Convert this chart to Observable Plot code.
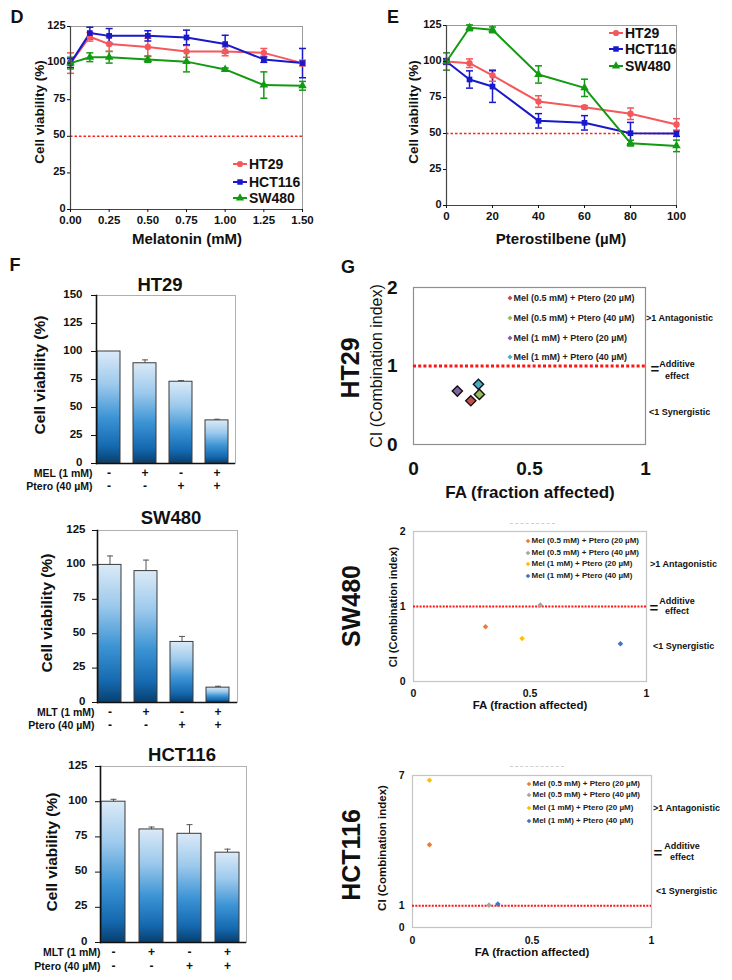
<!DOCTYPE html>
<html><head><meta charset="utf-8">
<script src="https://cdn.jsdelivr.net/npm/d3@7"></script>
<script src="https://cdn.jsdelivr.net/npm/@observablehq/plot@0.6"></script>
<style>
body{margin:0;background:#fff;}
#root{position:relative;width:732px;height:980px;overflow:hidden;background:#fff;}
</style></head>
<body><div id="root"></div>
<script>
// ---------------- DATA ----------------
const cellLines = ["HT29", "HCT116", "SW480"];
const lineColors = ["#f4585c", "#1818cc", "#139a13"];

// Panel D: melatonin dose response
const melatoninDoses = [0, 0.125, 0.25, 0.5, 0.75, 1.0, 1.25, 1.5];
const melHT29 = [100, 118, 113, 111, 108, 108, 107, 100];
const melHT29Err = [7, 3, 5, 6, 4, 3, 3, 2];
const melHCT116 = [100, 120.5, 118.6, 118.6, 117.5, 113, 102.5, 100];
const melHCT116Err = [3, 4, 5, 3.5, 5, 6, 2, 10];
const melSW480 = [100, 104, 104, 102.5, 101, 95.7, 85, 84.5];
const melSW480Err = [4, 3, 4, 2, 7, 1, 9, 3];
const melTicks = [0, 0.25, 0.5, 0.75, 1.0, 1.25, 1.5];

// Panel E: pterostilbene dose response
const pteroDoses = [0, 10, 20, 40, 60, 80, 100];
const pteHT29 = [100, 98.8, 90.3, 72.2, 68.3, 63.7, 56.3];
const pteHT29Err = [1, 3, 4, 4, 1, 4, 4];
const pteHCT116 = [100, 87.5, 82.6, 58.8, 57.4, 50.2, 50];
const pteHCT116Err = [2, 6, 11, 5, 5, 7.5, 2];
const pteSW480 = [100, 123.4, 122, 91, 81.7, 43.3, 41.4];
const pteSW480Err = [6, 2, 2, 6, 6, 2, 4];
const pteTicks = [0, 20, 40, 60, 80, 100];
const viabilityTicks = [0, 25, 50, 75, 100, 125];

// Panel F: combination bars
const treatments = ["Control", "Mel", "Ptero", "Mel+Ptero"];
const melSigns = ["-", "+", "-", "+"];
const pteroSigns = ["-", "-", "+", "+"];
const barHT29 = [100, 89.5, 73, 38.5];
const barHT29Err = [0, 3, 1, 1];
const barSW480 = [100, 95.5, 44, 10.8];
const barSW480Err = [6.5, 8, 4, 1];
const barHCT116 = [100, 80.3, 77.2, 63.8];
const barHCT116Err = [1.7, 1.7, 6.5, 2.5];

// Panel G: combination index
const ciCombos = ["Mel (0.5 mM) + Ptero (20 µM)", "Mel (0.5 mM) + Ptero (40 µM)", "Mel (1 mM) + Ptero (20 µM)", "Mel (1 mM) + Ptero (40 µM)"];
const ciColorsA = ["#c0504d", "#9bbb59", "#8064a2", "#4bacc6"];
const ciColorsB = ["#ed7d31", "#a5a5a5", "#ffc000", "#4472c4"];
const ciHT29FA = [0.247, 0.284, 0.189, 0.28];
const ciHT29 = [0.557, 0.638, 0.681, 0.766];
const ciSW480FA = [0.309, 0.544, 0.466, 0.888];
const ciSW480 = [0.729, 1.02, 0.573, 0.502];
const ciHCT116FA = [0.071, 0.32, 0.071, 0.357];
const ciHCT116 = [3.815, 1.03, 6.78, 1.08];

// ---------------- HELPERS ----------------
const FONT = "Arial, 'Liberation Sans', Helvetica, sans-serif";
const root = document.getElementById("root");

function txt(s, x, y, o = {}) {
  const d = document.createElement("div");
  d.textContent = s;
  Object.assign(d.style, {
    position: "absolute", left: x + "px", top: y + "px", whiteSpace: "nowrap",
    lineHeight: "1", fontSize: (o.size ?? 12) + "px", fontWeight: o.weight ?? "bold",
    color: o.color ?? "#111", fontFamily: FONT
  });
  const ax = o.anchor === "start" ? "0" : o.anchor === "end" ? "-100%" : "-50%";
  d.style.transform = `translate(${ax},-50%)` + (o.rotate ? ` rotate(${o.rotate}deg)` : "");
  root.appendChild(d);
  return d;
}

function place(svg, left, top) {
  svg.style.position = "absolute";
  svg.style.left = left + "px";
  svg.style.top = top + "px";
  root.appendChild(svg);
}

function swatch(cx, cy, color, symType, symSize, lineHalf) {
  const w = 2 * (lineHalf || 4) + 10, h = 16;
  const s = d3.create("svg").attr("width", w).attr("height", h)
    .style("position", "absolute").style("left", (cx - w / 2) + "px").style("top", (cy - h / 2) + "px").style("overflow", "visible");
  if (lineHalf) s.append("line").attr("x1", w / 2 - lineHalf).attr("x2", w / 2 + lineHalf)
    .attr("y1", h / 2).attr("y2", h / 2).attr("stroke", color).attr("stroke-width", 2);
  s.append("path").attr("d", d3.symbol(symType, symSize)()).attr("transform", `translate(${w / 2},${h / 2})`).attr("fill", color);
  root.appendChild(s.node());
}

// horizontal cap symbol for error bars
const capSym = { draw(ctx, size) { const r = Math.sqrt(size / Math.PI); ctx.moveTo(-r, 0); ctx.lineTo(r, 0); } };

// gradient for bars
{
  const s = d3.create("svg").attr("width", 0).attr("height", 0).style("position", "absolute");
  const g = s.append("defs").append("linearGradient").attr("id", "barGrad")
    .attr("x1", 0).attr("y1", 0).attr("x2", 0).attr("y2", 1);
  [[0, "#dbeaf7"], [0.3, "#9cc9ec"], [0.6, "#3b93d4"], [0.85, "#1569b0"], [1, "#083f6e"]]
    .forEach(([o, c]) => g.append("stop").attr("offset", o).attr("stop-color", c));
  root.appendChild(s.node());
}

const baseStyle = { fontFamily: FONT, fontWeight: "bold", fontSize: "11px", color: "#111", background: "transparent", overflow: "visible" };

// ---------------- PANELS D & E ----------------
function doseChart(o) {
  const data = [];
  cellLines.forEach((c, k) => o.doses.forEach((x, i) => data.push({ line: c, x, y: o.vals[k][i], e: o.errs[k][i] })));
  return Plot.plot({
    width: o.width, height: o.height, marginLeft: o.mL, marginRight: o.mR, marginTop: o.mT, marginBottom: o.mB,
    style: baseStyle,
    x: { domain: o.xDomain },
    y: { domain: [0, 125] },
    color: { domain: cellLines, range: lineColors },
    symbol: { domain: cellLines, range: ["circle", "square", "triangle"] },
    marks: [
      Plot.frame({ stroke: "#9a9a9a" }),
      Plot.ruleY([50], { stroke: "#ff2020", strokeDasharray: "2.5,2", strokeWidth: 1.5 }),
      Plot.ruleX(data, { x: "x", y1: d => d.y - d.e, y2: d => d.y + d.e, stroke: "line", strokeWidth: 1.5 }),
      Plot.dot(data, { x: "x", y: d => d.y + d.e, symbol: capSym, r: 3.5, stroke: "line", strokeWidth: 1.5 }),
      Plot.dot(data, { x: "x", y: d => d.y - d.e, symbol: capSym, r: 3.5, stroke: "line", strokeWidth: 1.5 }),
      Plot.line(data, { x: "x", y: "y", z: "line", stroke: "line", strokeWidth: 2 }),
      Plot.dot(data, { x: "x", y: "y", symbol: "line", fill: "line", r: 3.2 }),
      Plot.ruleX([o.xDomain[0]], { stroke: "#444", strokeWidth: 1.2 }),
      Plot.ruleY([0], { stroke: "#444", strokeWidth: 1.2 }),
      Plot.axisX({ ticks: o.xTicks, tickFormat: o.xFormat, tickSize: 3, tickPadding: 3, fontSize: 11.5, fontWeight: "bold", label: null }),
      Plot.axisY({ ticks: viabilityTicks, tickSize: 3, tickFormat: () => "", label: null }),
      Plot.axisY({ ticks: viabilityTicks, tickSize: 0, tickPadding: 5, dy: -1.5, fontSize: 11, fontWeight: "bold", label: null })
    ]
  });
}

place(doseChart({
  width: 360, height: 250, mL: 70, mR: 58, mT: 26, mB: 41,
  doses: melatoninDoses, vals: [melHT29, melHCT116, melSW480], errs: [melHT29Err, melHCT116Err, melSW480Err],
  xDomain: [0, 1.5], xTicks: melTicks, xFormat: d => d.toFixed(2)
}), 0, 0);

place(doseChart({
  width: 372, height: 250, mL: 86, mR: 56, mT: 25, mB: 45,
  doses: pteroDoses, vals: [pteHT29, pteHCT116, pteSW480], errs: [pteHT29Err, pteHCT116Err, pteSW480Err],
  xDomain: [0, 100], xTicks: pteTicks, xFormat: d => String(d)
}), 360, 0);

txt("D", 17, 17, { size: 18 });
txt("E", 393, 17, { size: 18 });
txt("Cell viability (%)", 40, 112, { size: 13.5, rotate: -90 });
txt("Cell viability (%)", 414, 112, { size: 13.5, rotate: -90 });
txt("Melatonin (mM)", 187, 238, { size: 15 });
txt("Pterostilbene (µM)", 561, 238, { size: 15 });

const symTypes = [d3.symbolCircle, d3.symbolSquare, d3.symbolTriangle];
[[164, 0], [182, 1], [198, 2]].forEach(([y, k]) => {
  swatch(240, y, lineColors[k], symTypes[k], 30, 7);
  txt(cellLines[k], 249, y, { size: 14, anchor: "start" });
});
[[33, 0], [49, 1], [66, 2]].forEach(([y, k]) => {
  swatch(616, y, lineColors[k], symTypes[k], 30, 7);
  txt(cellLines[k], 625, y, { size: 14, anchor: "start" });
});

// ---------------- PANEL F ----------------
function barChart(o) {
  const data = treatments.map((t, i) => ({ t, v: o.vals[i], e: o.errs[i], s1: melSigns[i], s2: pteroSigns[i] }));
  const errData = data.filter(d => d.e > 0);
  const yt = d3.range(0, o.yMax + 1, 25);
  return Plot.plot({
    width: o.width, height: o.height, marginLeft: o.mL, marginRight: o.mR, marginTop: o.mT, marginBottom: o.mB,
    style: baseStyle,
    x: { domain: treatments, paddingInner: 0.36, paddingOuter: 0.1, align: 0.15, axis: null },
    y: { domain: [0, o.yMax] },
    marks: [
      Plot.frame({ stroke: "#b0b0b0" }),
      Plot.ruleX(errData, { x: "t", y1: "v", y2: d => d.v + d.e, stroke: "#555", strokeWidth: 1 }),
      Plot.dot(errData, { x: "t", y: d => d.v + d.e, symbol: capSym, r: 3, stroke: "#555", strokeWidth: 1 }),
      Plot.barY(data, { x: "t", y: "v", fill: "url(#barGrad)", stroke: "#3a3a3a", strokeWidth: 1 }),
      Plot.frame({ anchor: "left", stroke: "#111", strokeWidth: 1.6 }),
      Plot.ruleY([0], { stroke: "#111", strokeWidth: 1.6 }),
      Plot.axisY({ ticks: yt, tickSize: 5, tickFormat: () => "", label: null }),
      Plot.axisY({ ticks: yt, tickSize: 0, tickPadding: o.tickPad + 5, dy: -1.5, fontSize: 11.5, fontWeight: "bold", label: null }),
      Plot.text(data, { x: "t", text: "s1", frameAnchor: "bottom", dy: o.dy1, fontSize: 12, fontWeight: "bold" }),
      Plot.text(data, { x: "t", text: "s2", frameAnchor: "bottom", dy: o.dy2, fontSize: 12, fontWeight: "bold" }),
      Plot.text([o.row1], { text: d => d, frameAnchor: "bottom-left", dx: o.rowDx, dy: o.dy1, textAnchor: "end", fontSize: 10.5, fontWeight: "bold" }),
      Plot.text(["Ptero (40 µM)"], { text: d => d, frameAnchor: "bottom-left", dx: o.rowDx, dy: o.dy2, textAnchor: "end", fontSize: 10.5, fontWeight: "bold" })
    ]
  });
}

place(barChart({ width: 260, height: 210, mL: 96, mR: 25, mT: 7, mB: 35, vals: barHT29, errs: barHT29Err, yMax: 150, tickPad: 9, dy1: 13.5, dy2: 26, row1: "MEL (1 mM)", rowDx: -4 }), 0, 288);
place(barChart({ width: 260, height: 212, mL: 97, mR: 23, mT: 8, mB: 32, vals: barSW480, errs: barSW480Err, yMax: 125, tickPad: 7, dy1: 13.5, dy2: 26, row1: "MLT (1 mM)", rowDx: -3 }), 0, 522);
place(barChart({ width: 260, height: 220, mL: 100, mR: 14, mT: 8, mB: 36, vals: barHCT116, errs: barHCT116Err, yMax: 125, tickPad: 8, dy1: 13.5, dy2: 27, row1: "MLT (1 mM)", rowDx: 0 }), 0, 758);

txt("F", 15, 265, { size: 18 });
txt("HT29", 160, 285, { size: 18.5 });
txt("SW480", 171, 518, { size: 18.5 });
txt("HCT116", 182, 755, { size: 18.5 });
txt("Cell viability (%)", 40, 375, { size: 15.5, rotate: -90 });
txt("Cell viability (%)", 47, 613, { size: 15.5, rotate: -90 });
txt("Cell viability (%)", 52, 852, { size: 15.5, rotate: -90 });

// ---------------- PANEL G ----------------
function ciChart(o) {
  const data = ciCombos.map((c, i) => ({ combo: c, fa: o.fa[i], ci: o.ci[i] }));
  return Plot.plot({
    width: o.width, height: o.height, marginLeft: o.mL, marginRight: o.mR, marginTop: o.mT, marginBottom: o.mB,
    style: baseStyle,
    x: { domain: [0, 1] },
    y: { domain: [0, o.yMax] },
    color: { domain: ciCombos, range: o.colors },
    marks: [
      Plot.frame({ stroke: o.frame, strokeWidth: 1.2 }),
      Plot.ruleY([1], { stroke: "#ff1414", strokeWidth: o.lineW, strokeDasharray: o.dash }),
      Plot.dot(data, { x: "fa", y: "ci", fill: "combo", symbol: "diamond2", r: o.r, stroke: o.stroke, strokeWidth: o.strokeW }),
      Plot.axisX({ ticks: [0, 0.5, 1], tickFormat: d => String(d), tickSize: 0, tickPadding: o.padX, fontSize: o.fs, fontWeight: "bold", label: null }),
      Plot.axisY({ ticks: o.yTicks, tickFormat: d => String(d), tickSize: 0, tickPadding: o.padY, fontSize: o.fs, fontWeight: "bold", label: null })
    ]
  });
}

place(ciChart({ width: 472, height: 240, mL: 153, mR: 87, mT: 17, mB: 66, fa: ciHT29FA, ci: ciHT29, colors: ciColorsA, yMax: 2, yTicks: [0, 1, 2],
  frame: "#8f8f8f", lineW: 3, dash: "3,2.2", r: 4.6, stroke: "#111", strokeW: 1.4, fs: 19, padX: 17, padY: 16 }), 260, 270);
place(ciChart({ width: 472, height: 200, mL: 153, mR: 86, mT: 11, mB: 39, fa: ciSW480FA, ci: ciSW480, colors: ciColorsB, yMax: 2, yTicks: [0, 1, 2],
  frame: "#c4c4c4", lineW: 2, dash: "2,1.3", r: 2.5, stroke: "none", strokeW: 0, fs: 10.5, padX: 8, padY: 8 }), 260, 520);
place(ciChart({ width: 472, height: 200, mL: 152, mR: 81, mT: 10, mB: 38, fa: ciHCT116FA, ci: ciHCT116, colors: ciColorsB, yMax: 7, yTicks: [0, 1, 7],
  frame: "#c4c4c4", lineW: 2, dash: "2,1.3", r: 2.5, stroke: "none", strokeW: 0, fs: 10.5, padX: 9, padY: 8 }), 260, 765);

txt("G", 348, 267, { size: 18 });
txt("HT29", 350, 368, { size: 25, rotate: -90 });
txt("SW480", 351, 606, { size: 25, rotate: -90 });
txt("HCT116", 351, 855, { size: 25, rotate: -90 });
txt("CI (Combination index)", 377, 366, { size: 16, weight: "normal", rotate: -90 });
txt("FA (fraction affected)", 530, 492, { size: 17 });
txt("CI (Combination index)", 393, 607, { size: 11, rotate: -90 });
txt("FA (fraction affected)", 530, 706, { size: 11.5 });
txt("CI (Combination index)", 383, 848, { size: 11.5, rotate: -90 });
txt("FA (fraction affected)", 532, 953, { size: 11.5 });

// legends inside G plots
function ciLegend(ys, mx, colors, fs, symSize) {
  ys.forEach((y, i) => {
    swatch(mx, y, colors[i], d3.symbolDiamond2, symSize, 0);
    txt(ciCombos[i], mx + 3.5, y, { size: fs, anchor: "start", color: "#222" });
  });
}
ciLegend([298, 318, 338, 357], 510, ciColorsA, 9, 16);
ciLegend([541, 553, 564, 576], 528, ciColorsB, 8, 14);
ciLegend([784, 795, 808, 821], 529, ciColorsB, 8, 14);

// right-side annotations
function ciNotes(x0, yAnt, eqX, eqY, addX, addY, effY, ySyn) {
  txt(">1 Antagonistic", x0, yAnt, { size: 9, anchor: "start" });
  txt("=", eqX, eqY, { size: 15 });
  txt("Additive", addX, addY, { size: 9 });
  txt("effect", addX, effY, { size: 9 });
  txt("<1 Synergistic", x0 + 3, ySyn, { size: 9, anchor: "start" });
}
ciNotes(646, 318, 655, 368, 677, 364, 376, 412);
ciNotes(650, 564, 654, 607, 677, 601, 611, 646);
ciNotes(653, 808, 658, 852, 682, 846, 857, 891);

// faint dashed scan artifacts above lower G plots
[[510, 523, 45], [510, 766, 54]].forEach(([x, y, w]) => {
  const d = document.createElement("div");
  Object.assign(d.style, { position: "absolute", left: x + "px", top: y + "px", width: w + "px", borderTop: "1px dashed #cfcfcf" });
  root.appendChild(d);
});
</script>
</body></html>
